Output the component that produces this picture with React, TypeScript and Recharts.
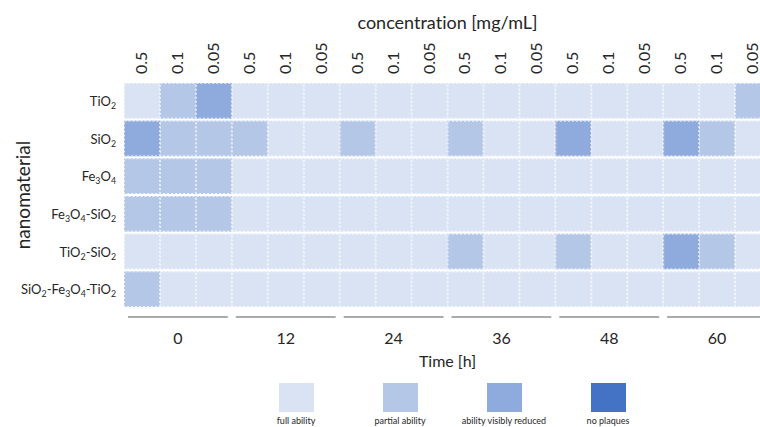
import React from 'react';
import { BarChart, Bar, XAxis, YAxis, Cell, Legend } from 'recharts';

const TIMES = ['0', '12', '24', '36', '48', '60'];
const CONCENTRATIONS = ['0.5', '0.1', '0.05'];
const MATERIALS = ['TiO2', 'SiO2', 'Fe3O4', 'Fe3O4-SiO2', 'TiO2-SiO2', 'SiO2-Fe3O4-TiO2'];
const LEVEL_NAMES = ['full ability', 'partial ability', 'ability visibly reduced', 'no plaques'];
const LEVEL_COLORS = ['#dae3f3', '#b4c7e7', '#8faadc', '#4472c4'];

// level per (time, concentration) column: 0 full, 1 partial, 2 visibly reduced, 3 no plaques
const TIO2 = [0, 1, 2, 0, 0, 0, 0, 0, 0, 0, 0, 0, 0, 0, 0, 0, 0, 1];
const SIO2 = [2, 1, 1, 1, 0, 0, 1, 0, 0, 1, 0, 0, 2, 0, 0, 2, 1, 0];
const FE3O4 = [1, 1, 1, 0, 0, 0, 0, 0, 0, 0, 0, 0, 0, 0, 0, 0, 0, 0];
const FE3O4_SIO2 = [1, 1, 1, 0, 0, 0, 0, 0, 0, 0, 0, 0, 0, 0, 0, 0, 0, 0];
const TIO2_SIO2 = [0, 0, 0, 0, 0, 0, 0, 0, 0, 1, 0, 0, 1, 0, 0, 2, 1, 0];
const SIO2_FE3O4_TIO2 = [1, 0, 0, 0, 0, 0, 0, 0, 0, 0, 0, 0, 0, 0, 0, 0, 0, 0];

const LEVELS = [TIO2, SIO2, FE3O4, FE3O4_SIO2, TIO2_SIO2, SIO2_FE3O4_TIO2];

const FONT = 'Lato, "Open Sans", sans-serif';
const TEXT = '#262626';
const NOLIG: React.CSSProperties = { fontVariantLigatures: 'none' };

const data = TIMES.flatMap((t) =>
  CONCENTRATIONS.map((c) => {
    const row: Record<string, string | number> = { key: `${t}|${c}`, time: t, conc: c };
    MATERIALS.forEach((_, mi) => {
      row[`m${mi}`] = 1;
    });
    return row;
  })
);

const middleKeys = TIMES.map((t) => `${t}|${CONCENTRATIONS[1]}`);
const rowTicks = MATERIALS.map((_, i) => i + 0.5);

const Formula = ({ name, size }: { name: string; size: number }) => {
  const parts = name.match(/[A-Za-z\-]+|\d+/g) || [];
  const out: React.ReactNode[] = [];
  let lowered = false;
  parts.forEach((p, i) => {
    if (/^\d+$/.test(p)) {
      out.push(
        <tspan key={i} fontSize={size * 0.68} dy={lowered ? 0 : 4}>
          {p}
        </tspan>
      );
      lowered = true;
    } else {
      out.push(
        <tspan key={i} dy={lowered ? -4 : 0}>
          {p}
        </tspan>
      );
      lowered = false;
    }
  });
  return <>{out}</>;
};

const ConcTick = (props: any) => {
  const { x, y, payload } = props;
  const conc = String(payload.value).split('|')[1];
  const tx = x - 1.5;
  return (
    <text
      x={tx}
      y={y}
      transform={`rotate(-90 ${tx} ${y})`}
      textAnchor="start"
      dominantBaseline="central"
      fontSize={16}
      fontFamily={FONT}
      fill={TEXT}
    >
      {conc}
    </text>
  );
};

const TimeTick = (props: any) => {
  const { x, y, payload } = props;
  const time = String(payload.value).split('|')[0];
  const half = (payload.offset || 18) * 3 - 4;
  return (
    <g>
      <line x1={x - half} x2={x + half} y1={y} y2={y} stroke="#595959" strokeWidth={1.2} />
      <text x={x} y={y + 20} textAnchor="middle" dominantBaseline="central" fontSize={16} fontFamily={FONT} fill={TEXT}>
        {time}
      </text>
    </g>
  );
};

const RowTick = (props: any) => {
  const { x, y, payload } = props;
  const idx = MATERIALS.length - 1 - Math.floor(payload.value);
  return (
    <text x={x} y={y} textAnchor="end" dominantBaseline="central" fontSize={13} fontFamily={FONT} fill={TEXT}>
      <Formula name={MATERIALS[idx]} size={13} />
    </text>
  );
};

const CellShape = (props: any) => {
  const { x, y, width, height, fill } = props;
  return (
    <g>
      <rect x={x} y={y + 1} width={width} height={height - 2} fill={fill} />
      <rect
        x={x + 0.5}
        y={y + 1.5}
        width={width - 1}
        height={height - 3}
        fill="none"
        stroke="#ffffff"
        strokeOpacity={0.75}
        strokeDasharray="2 2"
        strokeWidth={1}
      />
    </g>
  );
};

const LegendContent = () => (
  <div style={{ display: 'flex', paddingLeft: 244, fontFamily: FONT }}>
    {LEVEL_NAMES.map((n, i) => (
      <div key={n} style={{ width: 104, display: 'flex', flexDirection: 'column', alignItems: 'center' }}>
        <div style={{ width: 35, height: 29, background: LEVEL_COLORS[i] }} />
        <div style={{ fontSize: 9, color: TEXT, marginTop: 3, lineHeight: '11px', whiteSpace: 'nowrap' }}>{n}</div>
      </div>
    ))}
  </div>
);

export default function App() {
  return (
    <div style={{ position: 'absolute', left: 0, top: 0, width: 760, height: 427, overflow: 'hidden', background: '#fff' }}>
      <BarChart
        width={780}
        height={427}
        data={data}
        margin={{ top: 0, right: 9, bottom: 59, left: 0 }}
        barCategoryGap={0}
        barGap={0}
      >
        <XAxis
          dataKey="key"
          orientation="top"
          height={82}
          interval={0}
          axisLine={false}
          tickLine={false}
          tickSize={0}
          tickMargin={8}
          tick={<ConcTick />}
          label={(p: any) => {
            const vb = p.viewBox || { x: 124, y: 0, width: 647 };
            return (
              <text
                x={vb.x + vb.width / 2}
                y={vb.y + 22}
                textAnchor="middle"
                dominantBaseline="central"
                fontSize={18}
                fontFamily={FONT}
                fill={TEXT}
                style={NOLIG}
              >
                concentration [mg/mL]
              </text>
            );
          }}
        />
        <XAxis
          xAxisId="time"
          dataKey="key"
          orientation="bottom"
          height={60}
          ticks={middleKeys}
          interval={0}
          axisLine={false}
          tickLine={false}
          tickSize={0}
          tickMargin={9}
          tick={<TimeTick />}
          label={(p: any) => {
            const vb = p.viewBox || { x: 124, y: 308, width: 647 };
            return (
              <text
                x={vb.x + vb.width / 2}
                y={vb.y + 52}
                textAnchor="middle"
                dominantBaseline="central"
                fontSize={16}
                fontFamily={FONT}
                fill={TEXT}
              >
                Time [h]
              </text>
            );
          }}
        />
        <YAxis
          type="number"
          domain={[0, MATERIALS.length]}
          ticks={rowTicks}
          width={124}
          interval={0}
          axisLine={false}
          tickLine={false}
          tickSize={0}
          tickMargin={8}
          tick={<RowTick />}
          label={(p: any) => {
            const vb = p.viewBox || { x: 0, y: 82, height: 226 };
            const cx = vb.x + 22;
            const cy = vb.y + vb.height / 2;
            return (
              <text
                x={cx}
                y={cy}
                transform={`rotate(-90 ${cx} ${cy})`}
                textAnchor="middle"
                dominantBaseline="central"
                fontSize={19}
                fontFamily={FONT}
                fill={TEXT}
              >
                nanomaterial
              </text>
            );
          }}
        />
        <Legend
          layout="horizontal"
          verticalAlign="middle"
          align="center"
          wrapperStyle={{ position: 'absolute', left: 0, top: 383, width: 780 }}
          content={<LegendContent />}
        />
        {MATERIALS.map((_, k) => {
          const mi = MATERIALS.length - 1 - k;
          return (
            <Bar
              key={mi}
              dataKey={`m${mi}`}
              stackId="grid"
              isAnimationActive={false}
              shape={<CellShape />}
              legendType="none"
            >
              {LEVELS[mi].map((lvl, ci) => (
                <Cell key={ci} fill={LEVEL_COLORS[lvl]} />
              ))}
            </Bar>
          );
        })}
      </BarChart>
    </div>
  );
}
